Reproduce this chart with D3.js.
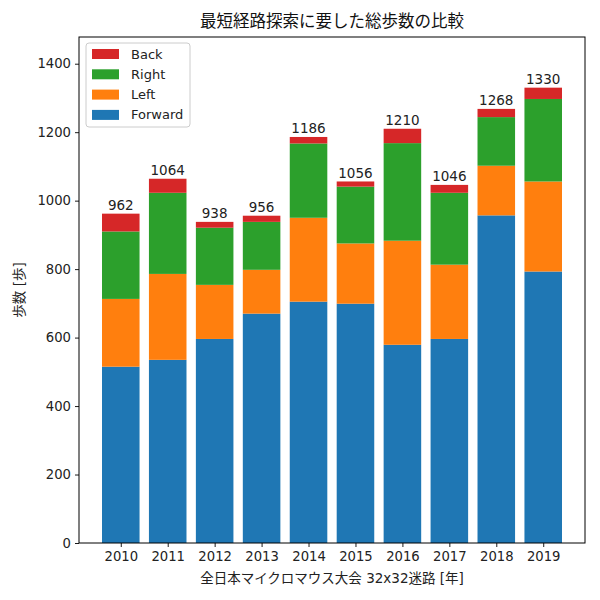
<!DOCTYPE html>
<html><head><meta charset="utf-8">
<script src="https://cdn.jsdelivr.net/npm/d3@7"></script>
<style>body{margin:0;background:#fff}</style>
</head><body><svg id="c" width="600" height="600"></svg>
<script>
const years = ["2010","2011","2012","2013","2014","2015","2016","2017","2018","2019"];
const forward = [515,535,596,670,705,699,579,596,957,793];
const left    = [198,251,158,128,245,176,304,217,145,263];
const right   = [197,237,167,140,217,166,285,210,142,241];
const back    = [52,41,17,18,19,15,42,23,24,33];
const yTicks = [0,200,400,600,800,1000,1200,1400];
const seriesNames = ["Forward","Left","Right","Back"];
const colors = {Forward:"#1f77b4",Left:"#ff7f0e",Right:"#2ca02c",Back:"#d62728"};

const font = "'DejaVu Sans', 'Noto Sans CJK JP', sans-serif";
const svg = d3.select("#c").style("font-family", font);
const L = 79, R = 585, T = 37, B = 543;

const rows = years.map((y,i)=>({year:y,Forward:forward[i],Left:left[i],Right:right[i],Back:back[i]}));
const stack = d3.stack().keys(seriesNames)(rows);
const totals = rows.map(r=>r.Forward+r.Left+r.Right+r.Back);

const x = d3.scaleLinear().domain([-0.89, years.length-1+0.89]).range([L,R]);
const bw = x(0.4)-x(-0.4);
const y = d3.scaleLinear().domain([0,1478]).range([B,T]);

const g = svg.append("g");
stack.forEach(s=>{
  g.selectAll(null).data(s).enter().append("rect")
    .attr("x",(d,i)=>x(i)-bw/2).attr("width",bw)
    .attr("y",d=>y(d[1])).attr("height",d=>y(d[0])-y(d[1]))
    .attr("fill",colors[s.key]);
});
g.selectAll(null).data(totals).enter().append("text")
  .attr("x",(d,i)=>x(i)).attr("y",d=>y(d)-3.5)
  .attr("text-anchor","middle").attr("font-size",13.5).attr("fill","#222")
  .text(d=>d);

const yAxis = d3.axisLeft(y).tickValues(yTicks).tickFormat(d3.format("d")).tickSize(4).tickPadding(4);
const ya = svg.append("g").attr("transform",`translate(${L},0)`).call(yAxis);
const xAxis = d3.axisBottom(x).tickValues(d3.range(years.length)).tickFormat(i=>years[i]).tickSize(4).tickPadding(5);
const xa = svg.append("g").attr("transform",`translate(0,${B})`).call(xAxis);
[ya,xa].forEach(a=>{
  a.select(".domain").remove();
  a.selectAll("text").attr("font-size",13.2).attr("fill","#222").style("font-family",font);
  a.selectAll("line").attr("stroke","#000").attr("stroke-width",0.9);
});
svg.append("rect").attr("x",L).attr("y",T).attr("width",R-L).attr("height",B-T)
  .attr("fill","none").attr("stroke","#000").attr("stroke-width",1);

svg.append("text").attr("x",(L+R)/2).attr("y",27).attr("text-anchor","middle")
  .attr("font-size",16.5).attr("fill","#111").text("最短経路探索に要した総歩数の比較");
svg.append("text").attr("x",(L+R)/2).attr("y",583).attr("text-anchor","middle")
  .attr("font-size",13.5).attr("fill","#222").text("全日本マイクロマウス大会 32x32迷路 [年]");
svg.append("text").attr("transform",`translate(24,${(T+B)/2}) rotate(-90)`).attr("text-anchor","middle")
  .attr("font-size",13.5).attr("fill","#222").text("歩数 [歩]");

const legOrder = ["Back","Right","Left","Forward"];
const lg = svg.append("g").attr("transform","translate(86,43)");
lg.append("rect").attr("width",104).attr("height",84).attr("rx",3)
  .attr("fill","#fff").attr("fill-opacity",0.8).attr("stroke","#ccc");
legOrder.forEach((k,i)=>{
  lg.append("rect").attr("x",6).attr("y",6+i*20.3).attr("width",27).attr("height",10).attr("fill",colors[k]);
  lg.append("text").attr("x",45).attr("y",15.5+i*20.3).attr("font-size",13).attr("fill","#222").text(k);
});
</script></body></html>
